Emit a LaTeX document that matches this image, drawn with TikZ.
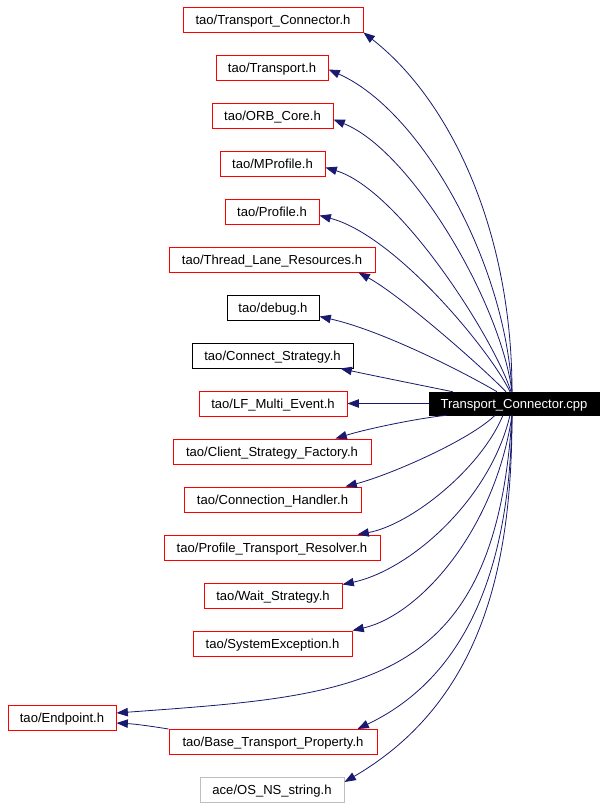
\documentclass[tikz,border=0pt]{standalone}
\usepackage{fontspec}
\setmainfont{Liberation Sans}
\usetikzlibrary{arrows.meta,calc}
\definecolor{edgeblue}{RGB}{25,25,112}
\definecolor{boxred}{RGB}{255,0,0}
\definecolor{boxgray}{RGB}{191,191,191}
\begin{document}
\begin{tikzpicture}[x=0.75pt,y=-0.75pt,
  box/.style={draw=boxred, line width=0.75pt, inner sep=0pt, minimum height=18.75pt, text=black,
    text height=7pt, text depth=0pt, font=\fontsize{9.8pt}{12pt}\selectfont},
  blackbox/.style={box, draw=black},
  graybox/.style={box, draw=boxgray},
  mainbox/.style={draw=black, fill=black, text=white, inner sep=0pt, minimum height=17.25pt,
    text height=7pt, text depth=0pt, minimum width=127.5pt, font=\fontsize{9.8pt}{12pt}\selectfont},
  edge/.style={draw=edgeblue, line width=0.6pt, -{Triangle[length=8.5pt,width=6.3pt]}, color=edgeblue}]
\useasboundingbox (0,0) rectangle (605,808);
\fill[white] (0,0) rectangle (605,808);

\node[mainbox] (main) at (514,403.5) {Transport\_Connector.cpp};

\node[box, minimum width=0.75pt*180] (t1) at (273,19.5) {tao/Transport\_Connector.h};
\node[box, minimum width=0.75pt*112] (t2) at (272,67.5) {tao/Transport.h};
\node[box, minimum width=0.75pt*121] (t3) at (272.5,115.5) {tao/ORB\_Core.h};
\node[box, minimum width=0.75pt*105] (t4) at (272.5,163.5) {tao/MProfile.h};
\node[box, minimum width=0.75pt*94] (t5) at (272,211.5) {tao/Profile.h};
\node[box, minimum width=0.75pt*206] (t6) at (272,259.5) {tao/Thread\_Lane\_Resources.h};
\node[blackbox, minimum width=0.75pt*92] (t7) at (273,307.5) {tao/debug.h};
\node[blackbox, minimum width=0.75pt*161] (t8) at (272.5,355.5) {tao/Connect\_Strategy.h};
\node[box, minimum width=0.75pt*148] (t9) at (273,403.5) {tao/LF\_Multi\_Event.h};
\node[box, minimum width=0.75pt*198] (t10) at (272,451.5) {tao/Client\_Strategy\_Factory.h};
\node[box, minimum width=0.75pt*177] (t11) at (272.5,499.5) {tao/Connection\_Handler.h};
\node[box, minimum width=0.75pt*216] (t12) at (272,547.5) {tao/Profile\_Transport\_Resolver.h};
\node[box, minimum width=0.75pt*138] (t13) at (273,595.5) {tao/Wait\_Strategy.h};
\node[box, minimum width=0.75pt*159] (t14) at (272.5,643.5) {tao/SystemException.h};
\node[box, minimum width=0.75pt*108] (t15) at (62,718) {tao/Endpoint.h};
\node[box, minimum width=0.75pt*208] (t16) at (273,742) {tao/Base\_Transport\_Property.h};
\node[graybox, minimum width=0.75pt*144] (t17) at (272,790) {ace/OS\_NS\_string.h};

% upper edges
\draw[edge] ($(main.north)+(-2,0)$) .. controls (512,230) and (450,100) .. (t1.south east);
\draw[edge] ($(main.north)+(-2,0)$) .. controls (505,260) and (420,110) .. ($(t2.east)+(0,2)$);
\draw[edge] ($(main.north)+(-2,0)$) .. controls (500,300) and (410,150) .. ($(t3.east)+(0,4)$);
\draw[edge] ($(main.north)+(-3,0)$) .. controls (495,340) and (400,190) .. ($(t4.east)+(0,4)$);
\draw[edge] ($(main.north)+(-4,0)$) .. controls (490,350) and (395,235) .. ($(t5.east)+(0,4)$);
\draw[edge] ($(main.north)+(-8,0)$) .. controls (480,365) and (400,295) .. ($(t6.south east)+(-17,0)$);
\draw[edge] ($(main.north)+(-17,0)$) .. controls (460,370) and (380,330) .. ($(t7.east)+(0,9)$);
\draw[edge] ($(main.north west)+(24,0)$) .. controls (420,385) and (370,375) .. ($(t8.south east)+(-13,0)$);
\draw[edge] (main.west) -- (t9.east);
% lower edges
\draw[edge] ($(main.south west)+(18,0)$) .. controls (420,418) and (370,428) .. ($(t10.north east)+(-36,0)$);
\draw[edge] ($(main.south)+(-19,0)$) .. controls (470,440) and (390,475) .. ($(t11.north east)+(-16,0)$);
\draw[edge] ($(main.south)+(-11,0)$) .. controls (480,470) and (410,525) .. ($(t12.north east)+(-23,0)$);
\draw[edge] ($(main.south)+(-4,0)$) .. controls (490,500) and (410,570) .. ($(t13.north east)+(0,2)$);
\draw[edge] ($(main.south)+(-2,0)$) .. controls (495,530) and (420,615) .. (t14.north east);
\draw[edge] ($(main.south)+(-2,0)$) .. controls (495,690) and (360,695) .. ($(t15.east)+(0,-5)$);
\draw[edge] ($(main.south)+(-2,0)$) .. controls (510,580) and (460,680) .. ($(t16.north east)+(-20,0)$);
\draw[edge] ($(main.south)+(-2,0)$) .. controls (512,560) and (485,700) .. ($(t17.east)+(0,-8)$);
\draw[edge] (t16.north west) .. controls (150,726) and (135,724) .. ($(t15.east)+(0,5)$);
\end{tikzpicture}
\end{document}
